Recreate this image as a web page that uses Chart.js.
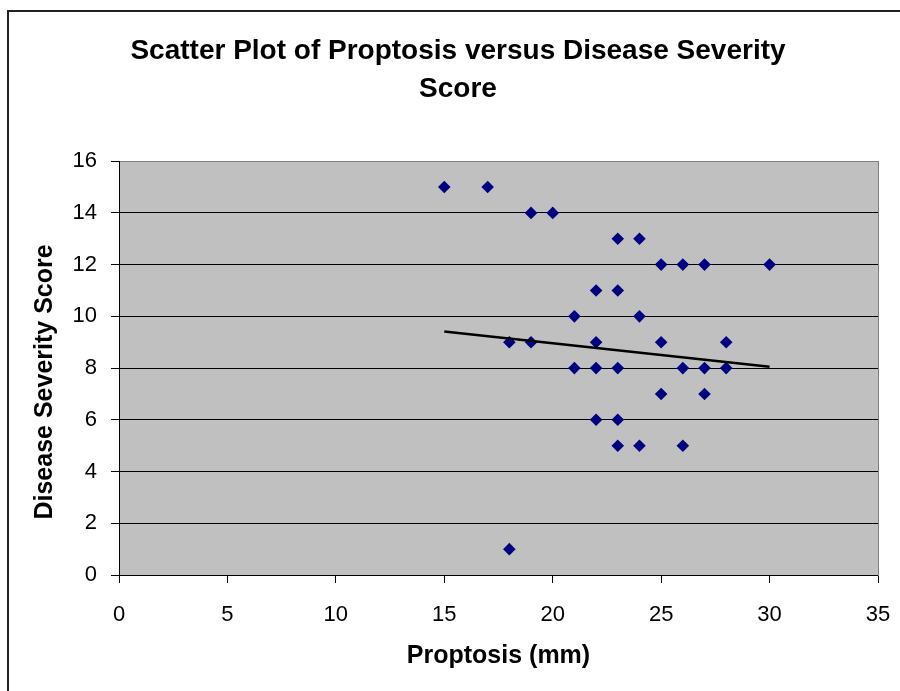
<!DOCTYPE html>
<html>
<head>
<meta charset="utf-8">
<title>Scatter Plot of Proptosis versus Disease Severity Score</title>
<script src="https://cdn.jsdelivr.net/npm/chart.js@4.4.1/dist/chart.umd.min.js"></script>
<style>
    body { margin: 0; background: #fff; overflow: hidden; }
    #wrap { position: relative; width: 900px; height: 691px; }
    #frame { position: absolute; left: 7px; top: 10px; width: 1000px; height: 800px;
             border-left: 2px solid #222; border-top: 2px solid #222; }
    #myChart { position: absolute; left: 0; top: 0; }
</style>
</head>
<body>
<div id="wrap">
    <div id="frame"></div>
    <canvas id="myChart" width="900" height="691"></canvas>
</div>
<script>
// du lieu doc tu hinh
var proptosis = [15, 17, 19, 20, 23, 24, 25, 26, 27, 30, 22, 23, 21, 24, 18, 19, 22, 25, 28,
    21, 22, 23, 26, 27, 28, 25, 27, 22, 23, 23, 24, 26, 18];
var severity = [15, 15, 14, 14, 13, 13, 12, 12, 12, 12, 11, 11, 10, 10, 9, 9, 9, 9, 9,
    8, 8, 8, 8, 8, 8, 7, 7, 6, 6, 5, 5, 5, 1];

// duong xu huong (trendline) - 2 dau mut
var trendX = [15, 30];
var trendY = [9.41, 8.05];

var xTicks = [0, 5, 10, 15, 20, 25, 30, 35];
var yTicks = [0, 2, 4, 6, 8, 10, 12, 14, 16];

var titleLines = ['Scatter Plot of Proptosis versus Disease Severity', 'Score'];
var xTitle = 'Proptosis (mm)';
var yTitle = 'Disease Severity Score';

var FONT = "'Liberation Sans', Arial, sans-serif";

function toPoints(xs, ys) {
    return xs.map(function (x, i) {
        return { x: x, y: ys[i] };
    });
}

// nen xam cho vung ve
var plotBackground = {
    id: 'plotBackground',
    beforeDraw: function (chart) {
        var a = chart.chartArea;
        var ctx = chart.ctx;
        ctx.save();
        ctx.fillStyle = '#c0c0c0';
        ctx.fillRect(a.left, a.top, a.right - a.left, a.bottom - a.top);
        ctx.restore();
    }
};

var data = {
    datasets: [{
        type: 'scatter',
        data: toPoints(proptosis, severity),
        backgroundColor: '#000080',
        borderWidth: 0,
        pointStyle: 'rectRot',
        pointRadius: 6.3,
        order: 2
    }, {
        type: 'line',
        data: toPoints(trendX, trendY),
        borderColor: '#000',
        borderWidth: 2.5,
        pointRadius: 0,
        fill: false,
        order: 1
    }]
};

var options = {
    responsive: false,
    animation: false,
    layout: { padding: { left: 20, right: 4, top: 0, bottom: 0 } },
    plugins: {
        legend: { display: false },
        tooltip: { enabled: false },
        title: {
            display: true,
            text: titleLines,
            color: '#000',
            font: { family: FONT, size: 28, weight: 'bold', lineHeight: 1.36 },
            padding: { top: 32, bottom: 53 }
        }
    },
    scales: {
        x: {
            type: 'linear',
            position: 'bottom',
            min: 0,
            max: 35,
            afterBuildTicks: function (scale) {
                scale.ticks = xTicks.map(function (v) { return { value: v }; });
            },
            afterFit: function (scale) { scale.height = 116; },
            grid: { drawOnChartArea: false, color: '#000', tickLength: 8 },
            border: { color: '#000', width: 1 },
            ticks: { color: '#000', padding: 4, font: { family: FONT, size: 22, lineHeight: 2.5 } },
            title: {
                display: true,
                text: xTitle,
                color: '#000',
                font: { family: FONT, size: 25, weight: 'bold' },
                padding: { top: 0, bottom: 20 }
            }
        },
        y: {
            type: 'linear',
            position: 'left',
            min: 0,
            max: 16,
            afterBuildTicks: function (scale) {
                scale.ticks = yTicks.map(function (v) { return { value: v }; });
            },
            afterFit: function (scale) { scale.width = 99; },
            grid: {
                color: function (c) { return c.tick && c.tick.value === 16 ? '#808080' : '#000'; },
                tickColor: '#000',
                tickLength: 8
            },
            border: { color: '#000', width: 1 },
            ticks: { color: '#000', padding: 14, font: { family: FONT, size: 22 } },
            title: {
                display: true,
                // khoang trang cuoi de day chu xuong giong hinh goc
                text: yTitle + '    ',
                color: '#000',
                font: { family: FONT, size: 25, weight: 'bold' },
                padding: { top: 10, bottom: 0 }
            }
        },
        // truc phu ben phai: chi de ve vien phai mau xam
        y2: {
            type: 'linear',
            position: 'right',
            min: 0,
            max: 16,
            afterFit: function (scale) { scale.width = 18; },
            grid: { display: false },
            border: { color: '#808080', width: 1 },
            ticks: { display: false }
        }
    }
};

var ctx = document.getElementById('myChart').getContext('2d');
var myChart = new Chart(ctx, {
    type: 'scatter',
    data: data,
    options: options,
    plugins: [plotBackground]
});
</script>
</body>
</html>
